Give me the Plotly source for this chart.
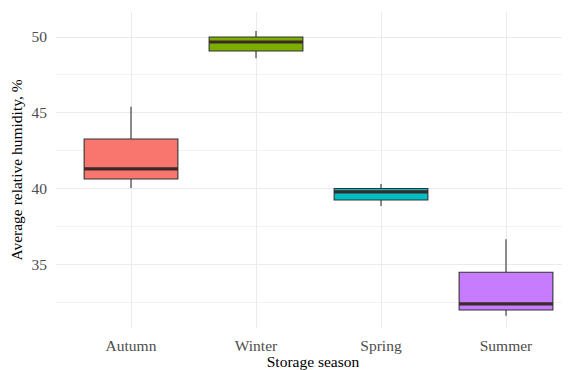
import plotly.graph_objects as go

seasons = ["Autumn", "Winter", "Spring", "Summer"]
lower_whisker = [40.03, 48.6, 38.85, 31.6]
q1 = [40.63, 49.08, 39.24, 31.98]
median = [41.29, 49.67, 39.77, 32.38]
q3 = [43.27, 50.0, 40.0, 34.47]
upper_whisker = [45.4, 50.4, 40.3, 36.65]
colors = ["#F8766D", "#7CAE00", "#00BFC4", "#C77CFF"]
y_ticks = [35, 40, 45, 50]

box_w = 0.75
fig = go.Figure()
for i, s in enumerate(seasons):
    x = i + 1
    fig.add_trace(go.Box(
        x=[x], q1=[q1[i]], median=[median[i]], q3=[q3[i]],
        lowerfence=[lower_whisker[i]], upperfence=[upper_whisker[i]],
        fillcolor=colors[i], line=dict(color="#333333", width=1.1),
        width=box_w, whiskerwidth=0, boxpoints=False, name=s,
        showlegend=False, hoverinfo="skip",
    ))
    fig.add_trace(go.Scatter(
        x=[x - box_w / 2, x + box_w / 2], y=[median[i], median[i]],
        mode="lines", line=dict(color="#3a2a2a", width=3.2),
        showlegend=False, hoverinfo="skip",
    ))

font = "Liberation Serif"
fs = 15.5
fig.update_layout(
    width=570, height=370,
    margin=dict(l=48, r=8, t=4, b=50),
    plot_bgcolor="white", paper_bgcolor="white",
    font=dict(family=font, color="#4d4d4d", size=fs),
)
fig.update_xaxes(
    range=[0.4, 4.512], tickvals=[1, 2, 3, 4], ticktext=seasons,
    showgrid=True, gridcolor="#ebebeb", gridwidth=1, zeroline=False,
    showline=False, ticks="", tickfont=dict(size=fs, color="#4d4d4d"),
    ticklabelstandoff=6, automargin=False,
    title=dict(text="Storage season", font=dict(size=fs, color="black"), standoff=2),
)
fig.update_yaxes(
    range=[30.79, 51.65], tickvals=y_ticks,
    showgrid=True, gridcolor="#ebebeb", gridwidth=1, zeroline=False,
    minor=dict(dtick=5, tick0=32.5, showgrid=True, gridcolor="#f2f2f2", gridwidth=1),
    showline=False, ticks="", tickfont=dict(size=fs, color="#4d4d4d"),
    ticklabelstandoff=8, automargin=False,
    title=dict(text="Average relative humidity, %", font=dict(size=fs, color="black"), standoff=6),
)
fig.write_html("out.html")
